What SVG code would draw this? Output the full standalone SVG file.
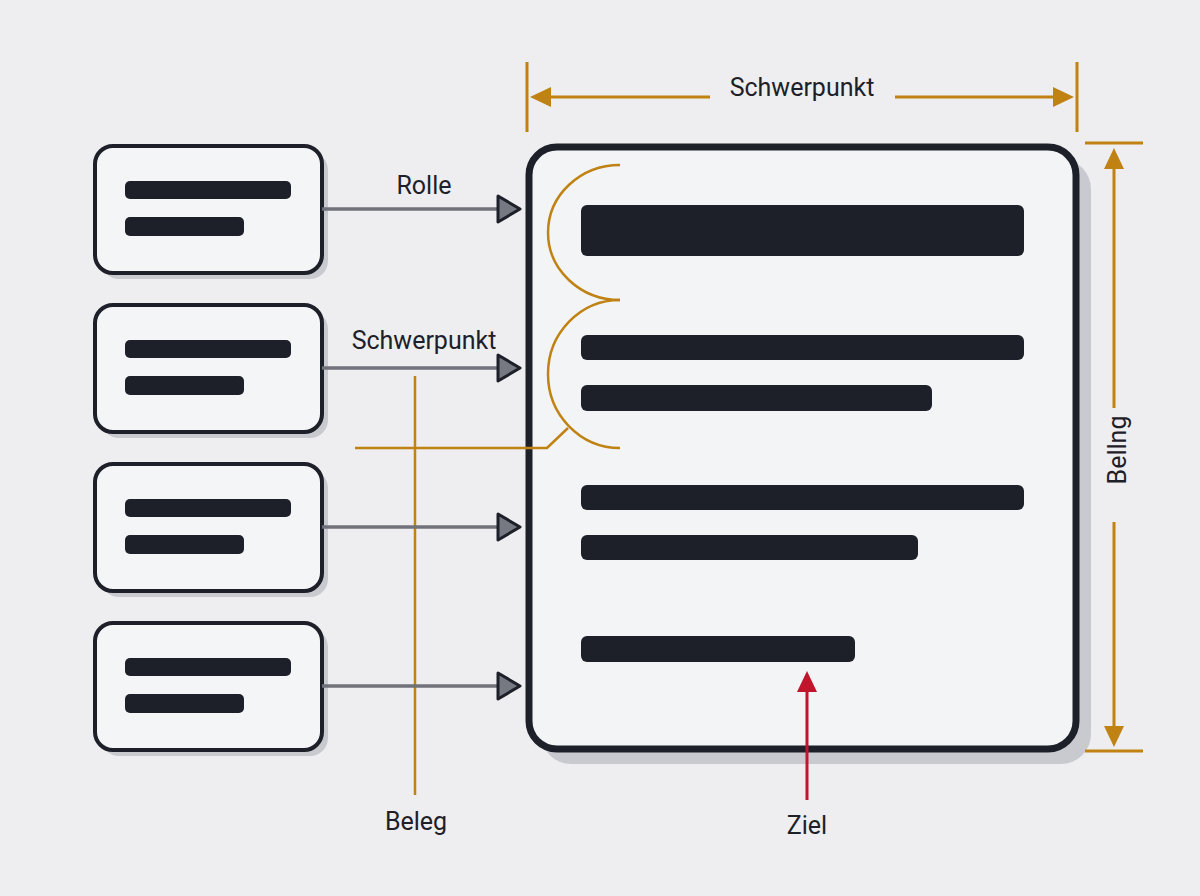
<svg xmlns="http://www.w3.org/2000/svg" width="1200" height="896" viewBox="0 0 1200 896">
<defs>
<style>
.lbl{font-family:Roboto,"Liberation Sans",sans-serif;font-size:25px;fill:#1d2029;text-anchor:middle}
.card{fill:#f4f5f7;stroke:#1d2029;stroke-width:4}
.shadow{fill:#c9cad0}
.bar{fill:#1d2029}
.conn{stroke:#6f727a;stroke-width:3.5;fill:none}
.head{fill:#767981;stroke:#1d2029;stroke-width:3;stroke-linejoin:round}
.dim{stroke:#bf8213;stroke-width:3;fill:none}
.dimhead{fill:#bf8213}
.ann{stroke:#bf8213;stroke-width:2.5;fill:none}
</style>
</defs>
<rect width="1200" height="896" fill="#eeeef0"/>

<g id="main">
<rect class="shadow" x="541" y="159" width="550" height="605" rx="30"/>
<rect x="529" y="147" width="547" height="602" rx="28" fill="#f3f4f6" stroke="#1d2029" stroke-width="7"/>
<rect class="bar" x="581" y="205" width="443" height="51" rx="6"/>
<rect class="bar" x="581" y="335" width="443" height="25" rx="6"/>
<rect class="bar" x="581" y="385" width="351" height="26" rx="6"/>
<rect class="bar" x="581" y="485" width="443" height="25" rx="6"/>
<rect class="bar" x="581" y="535" width="337" height="25" rx="6"/>
<rect class="bar" x="581" y="636" width="274" height="26" rx="6"/>
</g>

<g id="card1">
<rect class="shadow" x="101" y="152" width="227" height="127" rx="18"/>
<rect class="card" x="95" y="146" width="227" height="127" rx="18"/>
<rect class="bar" x="125" y="181" width="166" height="18" rx="5"/>
<rect class="bar" x="125" y="217" width="119" height="19" rx="5"/>
</g>
<g id="card2">
<rect class="shadow" x="101" y="311" width="227" height="127" rx="18"/>
<rect class="card" x="95" y="305" width="227" height="127" rx="18"/>
<rect class="bar" x="125" y="340" width="166" height="18" rx="5"/>
<rect class="bar" x="125" y="376" width="119" height="19" rx="5"/>
</g>
<g id="card3">
<rect class="shadow" x="101" y="470" width="227" height="127" rx="18"/>
<rect class="card" x="95" y="464" width="227" height="127" rx="18"/>
<rect class="bar" x="125" y="499" width="166" height="18" rx="5"/>
<rect class="bar" x="125" y="535" width="119" height="19" rx="5"/>
</g>
<g id="card4">
<rect class="shadow" x="101" y="629" width="227" height="127" rx="18"/>
<rect class="card" x="95" y="623" width="227" height="127" rx="18"/>
<rect class="bar" x="125" y="658" width="166" height="18" rx="5"/>
<rect class="bar" x="125" y="694" width="119" height="19" rx="5"/>
</g>

<g id="annotations">
<path class="ann" d="M620,165 A72,67.5 0 0 0 620,300"/>
<path class="ann" d="M620,300 A72,74 0 0 0 620,448"/>
<path class="ann" d="M568,428 L547,448 L355,448"/>
<line class="ann" x1="415" y1="376" x2="415" y2="795"/>
<text class="lbl" x="416" y="830">Beleg</text>
<line x1="807" y1="800" x2="807" y2="690" stroke="#c0152a" stroke-width="3"/>
<polygon points="807,671 797,692 817,692" fill="#c0152a"/>
<text class="lbl" x="807" y="834">Ziel</text>
</g>

<g id="connectors">
<line class="conn" x1="322" y1="209" x2="498" y2="209"/>
<polygon class="head" points="498,196 520,209 498,222"/>
<line class="conn" x1="322" y1="368" x2="498" y2="368"/>
<polygon class="head" points="498,355 520,368 498,381"/>
<line class="conn" x1="322" y1="527" x2="498" y2="527"/>
<polygon class="head" points="498,514 520,527 498,540"/>
<line class="conn" x1="322" y1="686" x2="498" y2="686"/>
<polygon class="head" points="498,673 520,686 498,699"/>
<text class="lbl" x="424" y="194">Rolle</text>
<text class="lbl" x="424" y="349">Schwerpunkt</text>
</g>

<g id="dim-top">
<line class="dim" x1="527" y1="62" x2="527" y2="132"/>
<line class="dim" x1="1077" y1="62" x2="1077" y2="132"/>
<line class="dim" x1="545" y1="97" x2="710" y2="97"/>
<line class="dim" x1="895" y1="97" x2="1058" y2="97"/>
<polygon class="dimhead" points="530,97 551,87 551,107"/>
<polygon class="dimhead" points="1074,97 1053,87 1053,107"/>
<text class="lbl" x="802" y="96">Schwerpunkt</text>
</g>

<g id="dim-right">
<line class="dim" x1="1085" y1="143" x2="1143" y2="143"/>
<line class="dim" x1="1085" y1="751" x2="1143" y2="751"/>
<line class="dim" x1="1114" y1="165" x2="1114" y2="408"/>
<line class="dim" x1="1114" y1="522" x2="1114" y2="730"/>
<polygon class="dimhead" points="1114,148 1104,169 1124,169"/>
<polygon class="dimhead" points="1114,747 1104,726 1124,726"/>
<text class="lbl" transform="translate(1126,450) rotate(-90)">Bellng</text>
</g>
</svg>
